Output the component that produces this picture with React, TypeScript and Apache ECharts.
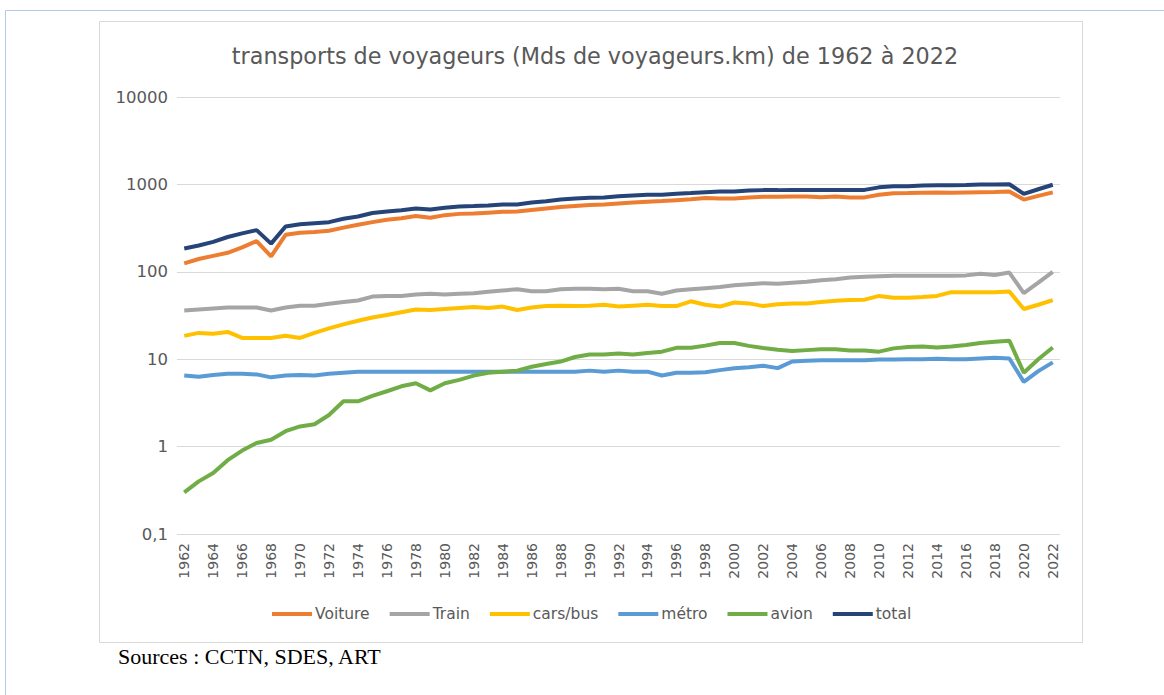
import React, { useEffect, useRef } from "react";
import * as echarts from "echarts";

const years: string[] = [];
for (let y = 1962; y <= 2022; y++) years.push(String(y));

const voiture = [125, 140, 152, 165, 190, 225, 150, 265, 280, 285, 295, 320, 345, 370, 395, 410, 435, 415, 445, 460, 465, 475, 485, 490, 510, 530, 550, 565, 580, 590, 605, 620, 635, 645, 660, 675, 700, 690, 690, 710, 720, 720, 725, 725, 715, 725, 710, 710, 760, 790, 795, 805, 810, 800, 810, 815, 820, 830, 670, 740, 810];
const train = [36, 37, 38, 39, 39, 39, 36, 39, 41, 41, 43, 45, 47, 52, 53, 53, 55, 56, 55, 56, 57, 59, 61, 63, 60, 60, 63, 64, 64, 63, 64, 60, 60, 56, 61, 63, 65, 67, 70, 72, 74, 73, 75, 77, 80, 82, 86, 88, 89, 90, 90, 90, 90, 90, 91, 95, 92, 98, 57, 75, 100];
const carsBus = [18.5, 20, 19.5, 20.5, 17.5, 17.5, 17.5, 18.5, 17.5, 20, 22.5, 25, 27.5, 30, 32, 34.5, 37, 36.5, 37.5, 38.5, 39.5, 38.5, 40, 36.5, 39, 40.5, 41, 40.5, 41, 42, 40, 41, 42, 40.5, 40.5, 46, 42, 40, 44.5, 43.5, 40.5, 42.5, 43.5, 43.5, 45, 46.5, 47.5, 48, 53, 50.5, 50.5, 51.5, 53, 58.5, 58.5, 58.5, 58.5, 59.5, 37.5, 42, 47.5];
const metro = [6.5, 6.3, 6.6, 6.8, 6.8, 6.7, 6.2, 6.5, 6.6, 6.5, 6.8, 7.0, 7.2, 7.2, 7.2, 7.2, 7.2, 7.2, 7.2, 7.2, 7.2, 7.2, 7.2, 7.2, 7.2, 7.2, 7.2, 7.2, 7.4, 7.2, 7.4, 7.2, 7.2, 6.5, 7.0, 7.0, 7.1, 7.5, 7.9, 8.1, 8.4, 7.9, 9.4, 9.6, 9.7, 9.7, 9.7, 9.7, 9.9, 9.9, 10, 10, 10.1, 10, 10, 10.2, 10.4, 10.2, 5.5, 7.3, 9.2];
const avion = [0.3, 0.4, 0.5, 0.7, 0.9, 1.1, 1.2, 1.5, 1.7, 1.8, 2.3, 3.3, 3.3, 3.8, 4.3, 4.9, 5.3, 4.4, 5.3, 5.8, 6.5, 7.0, 7.2, 7.4, 8.2, 8.8, 9.4, 10.6, 11.3, 11.3, 11.6, 11.3, 11.8, 12.2, 13.5, 13.5, 14.3, 15.3, 15.3, 14.2, 13.4, 12.8, 12.4, 12.7, 13.0, 13.0, 12.6, 12.6, 12.2, 13.3, 13.8, 14.0, 13.6, 14.0, 14.5, 15.3, 15.8, 16.3, 7.0, 10, 13.6];
const total = [185, 200, 220, 250, 275, 300, 210, 330, 350, 360, 370, 405, 430, 470, 490, 505, 530, 515, 540, 560, 565, 575, 590, 590, 620, 640, 670, 690, 705, 710, 730, 745, 760, 760, 780, 795, 815, 830, 830, 850, 860, 860, 865, 865, 865, 865, 865, 865, 925, 950, 955, 970, 980, 980, 985, 995, 1000, 1005, 780, 880, 990];

const seriesNames = ["Voiture", "Train", "cars/bus", "métro", "avion", "total"];
const seriesData = [voiture, train, carsBus, metro, avion, total];
const colors = ["#ED7D31", "#A5A5A5", "#FFC000", "#5B9BD5", "#70AD47", "#264478"];

const titleText = "transports de voyageurs (Mds de voyageurs.km) de 1962 à 2022";
const sourceText = "Sources : CCTN, SDES, ART";

const FONT = "DejaVu Sans";

export default function App() {
  const ref = useRef<HTMLDivElement>(null);
  useEffect(() => {
    if (!ref.current) return;
    const chart = echarts.init(ref.current, null, { renderer: "svg" });
    chart.setOption({
      animation: false,
      backgroundColor: "#ffffff",
      title: {
        text: titleText,
        left: 590,
        textAlign: "center",
        top: 40,
        textStyle: { fontFamily: FONT, fontSize: 22.3, fontWeight: "normal", color: "#595959" },
      },
      graphic: [
        { type: "rect", shape: { x: 5.5, y: 10.5, width: 1170, height: 700 }, style: { fill: "none", stroke: "#B4C7E7", lineWidth: 1 }, silent: true, z: -10 },
        { type: "rect", shape: { x: 99.5, y: 21.5, width: 983, height: 621 }, style: { fill: "none", stroke: "#D9D9D9", lineWidth: 1 }, silent: true, z: -10 },
        { type: "text", left: 118, top: 645, style: { text: sourceText, fontFamily: "Liberation Serif", fontSize: 22, fill: "#000000" } },
      ],
      legend: {
        data: seriesNames,
        top: 606,
        left: 272,
        padding: 0,
        itemWidth: 40,
        itemHeight: 4,
        itemGap: 20,
        icon: "rect",
        textStyle: { fontFamily: FONT, fontSize: 15.5, color: "#595959", padding: [0, 0, 0, -2] },
      },
      grid: { left: 177, right: 104, top: 97, height: 437, containLabel: false },
      xAxis: {
        type: "category",
        data: years,
        boundaryGap: true,
        axisLine: { show: false },
        axisTick: { show: false },
        axisLabel: { rotate: 90, interval: 1, fontFamily: FONT, fontSize: 14, color: "#595959", margin: 9 },
      },
      yAxis: {
        type: "log",
        logBase: 10,
        min: 0.1,
        max: 10000,
        axisLine: { show: false },
        axisTick: { show: false },
        splitLine: { lineStyle: { color: "#D9D9D9", width: 1 } },
        axisLabel: {
          fontFamily: FONT,
          fontSize: 16.5,
          color: "#595959",
          margin: 9,
          formatter: (v: number) => (v < 1 ? String(v).replace(".", ",") : String(Math.round(v))),
        },
      },
      series: seriesNames.map((name, i) => ({
        name,
        type: "line",
        data: seriesData[i],
        symbol: "none",
        lineStyle: { width: 4, color: colors[i] },
        itemStyle: { color: colors[i] },
      })),
    });
    return () => chart.dispose();
  }, []);
  return <div ref={ref} style={{ position: "fixed", left: 0, top: 0, width: 1164, height: 695 }} />;
}
